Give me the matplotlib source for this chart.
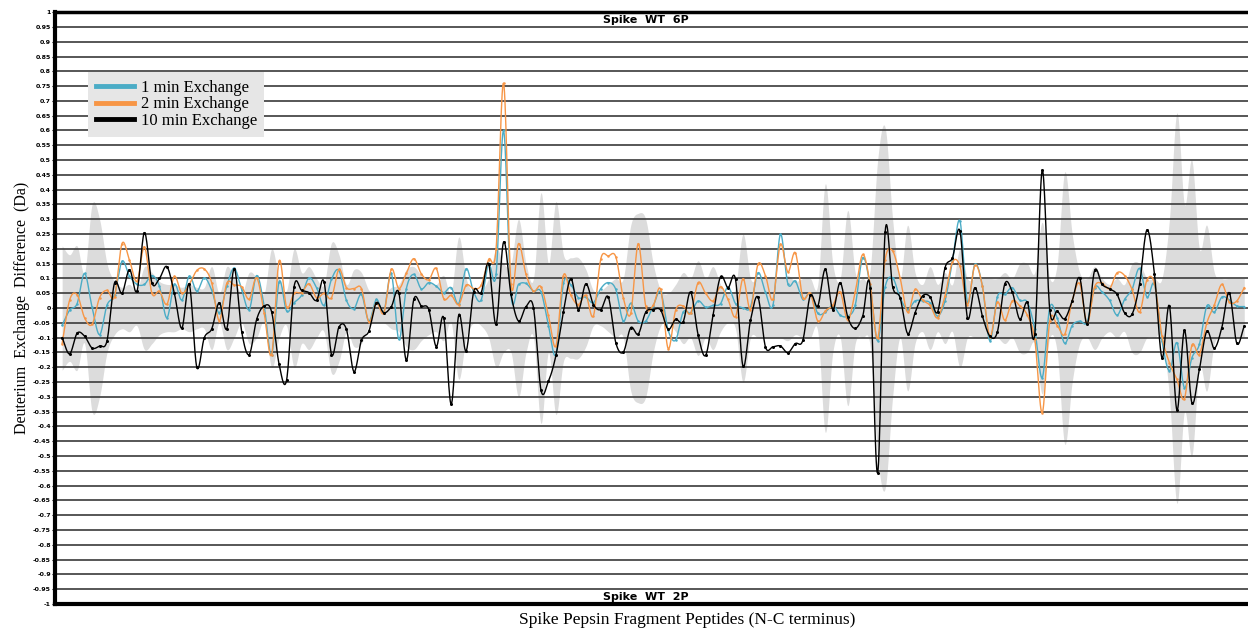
import numpy as np
import matplotlib
matplotlib.use('Agg')
import matplotlib.pyplot as plt
from matplotlib.lines import Line2D

# deuterium uptake difference (6P - 2P) per peptide, N- to C-terminus
min1 = [-0.058, -0.007, 0.015, 0.117, 0.003, -0.09, 0.01, 0.045, 0.158, 0.108, 0.08, 0.08, 0.11, 0.074, -0.033, 0.08, 0.027, 0.108, 0.057, 0.102, 0.06, -0.016, 0.074, 0.135, 0.062, -0.005,
        0.11, 0.007, -0.157, 0.089, -0.01, 0.018, 0.043, 0.102, 0.069, 0.009, 0.097, 0.127, 0.026, -0.002, 0.046, -0.044, 0.029, -0.012, 0.117, -0.106, 0.065, 0.114, 0.065, 0.086, 0.074, 0.052,
        0.069, 0.015, 0.133, 0.054, 0.027, 0.15, 0.114, 0.6, 0.043, 0.08, 0.083, 0.057, 0.055, -0.059, -0.157, 0.083, 0.078, 0.035, 0.037, 0.018, 0.066, 0.086, 0.063, -0.044, 0.016, -0.044,
        -0.044, 0.007, 0.054, -0.075, -0.108, -0.014, -0.016, 0.024, 0.003, 0.009, 0.015, 0.071, 0.015, 0.001, 0.003, 0.119, 0.054, 0.009, 0.249, 0.082, 0.091, 0.029, 0.05, -0.018, -0.014, 0.009,
        -0.024, -0.027, 0.009, 0.17, 0.074, -0.111, 0.072, 0.102, 0.035, -0.005, 0.024, 0.024, 0.018, -0.027, 0.024, 0.159, 0.294, 0.02, 0.148, 0.074, -0.111, 0.038, 0.046, 0.069, 0.026, 0.02, -0.072,
        -0.235, 0.001, -0.033, -0.119, -0.059, -0.044, -0.047, 0.069, 0.054, 0.026, -0.024, 0.029, 0.063, 0.134, 0.037, 0.08, -0.111, -0.212, -0.117, -0.269, -0.168, -0.123, 0.007, -0.014, 0.037, 0.027, 0.007, 0.005]

min2 = [-0.12, 0.027, 0.045, -0.033, -0.055, 0.035, 0.06, 0.038, 0.218, 0.162, 0.09, 0.207, 0.05, 0.057, 0.013, 0.107, 0.05, 0.08, 0.127, 0.132, 0.085, -0.043, 0.083, 0.078, 0.072, 0.03,
        0.102, -0.016, -0.157, 0.159, 0.003, 0.05, 0.052, 0.082, 0.035, 0.05, 0.035, 0.131, 0.069, 0.066, 0.066, -0.047, 0.018, -0.016, 0.131, 0.066, 0.117, 0.167, 0.116, 0.095, 0.134, 0.032,
        0.043, 0.012, 0.077, 0.066, 0.077, 0.164, 0.2, 0.76, 0.08, 0.218, 0.114, 0.057, 0.072, -0.025, -0.128, 0.11, 0.043, 0.012, 0.043, -0.027, 0.167, 0.176, 0.173, 0.035, -0.018, 0.218,
        0.007, 0.009, 0.063, -0.137, -0.007, 0.007, -0.018, 0.086, 0.05, 0.024, 0.072, 0.029, -0.029, 0.099, -0.005, 0.148, 0.11, 0.029, 0.215, 0.122, 0.187, 0.035, 0.05, -0.044, -0.01, 0.009,
        0.054, -0.041, 0.054, 0.181, 0.08, -0.102, 0.164, 0.193, 0.102, -0.014, 0.063, 0.027, 0.009, -0.033, 0.041, 0.155, 0.142, 0.012, 0.144, 0.074, -0.097, 0.02, -0.041, 0.024, 0.007, -0.024, -0.106,
        -0.354, -0.044, -0.059, -0.089, 0.024, 0.083, -0.052, 0.072, 0.083, 0.066, 0.119, 0.11, 0.063, -0.014, 0.095, 0.083, -0.095, -0.185, -0.241, -0.306, -0.126, -0.157, -0.05, 0.01, 0.08, 0.02, 0.024, 0.069]

min10 = [-0.10, -0.155, -0.085, -0.095, -0.135, -0.128, -0.11, 0.085, 0.05, 0.13, 0.057, 0.255, 0.085, 0.10, 0.14, 0.05, -0.068, 0.08, -0.20, -0.10, -0.07, 0.018, -0.07, 0.133, -0.08, -0.157,
         -0.038, 0.007, -0.013, -0.19, -0.243, 0.072, 0.06, 0.052, 0.026, 0.089, -0.157, -0.064, -0.072, -0.215, -0.109, -0.078, 0.018, -0.016, 0.005, 0.052, -0.176, 0.029, 0.007, -0.005, -0.13, -0.033,
         -0.325, -0.024, -0.145, 0.055, 0.052, 0.15, -0.055, 0.223, 0.046, -0.044, 0.005, 0.001, -0.277, -0.247, -0.16, -0.012, 0.099, -0.005, 0.082, 0.012, -0.005, 0.037, -0.117, -0.149, -0.066, -0.088,
         -0.014, -0.005, -0.007, -0.072, -0.038, -0.047, 0.054, -0.09, -0.16, -0.024, 0.106, 0.069, 0.097, -0.196, -0.042, 0.037, -0.131, -0.131, -0.128, -0.151, -0.12, -0.109, 0.043, 0.007, 0.131, -0.005,
         0.086, -0.03, -0.069, -0.027, 0.069, -0.557, 0.257, 0.072, 0.035, -0.086, -0.016, 0.041, 0.038, -0.014, 0.136, 0.17, 0.26, -0.033, 0.069, -0.027, -0.095, -0.081, 0.082, 0.054, -0.038, 0.02, -0.088,
         0.466, -0.005, -0.01, -0.036, 0.024, 0.102, -0.055, 0.127, 0.08, 0.065, 0.046, -0.016, -0.021, 0.08, 0.264, 0.114, -0.168, 0.007, -0.345, -0.075, -0.32, -0.207, -0.078, -0.136, -0.066, 0.052, -0.119, -0.061]

# significance threshold (+/-) per peptide
ci = [0.21, 0.18, 0.21, 0.12, 0.35, 0.30, 0.15, 0.09, 0.07, 0.08, 0.06, 0.14, 0.12, 0.09, 0.08, 0.08, 0.07, 0.08, 0.07, 0.07, 0.14, 0.05, 0.14, 0.10, 0.05, 0.12,
      0.10, 0.05, 0.20, 0.10, 0.06, 0.20, 0.12, 0.14, 0.10, 0.08, 0.22, 0.18, 0.08, 0.13, 0.12, 0.06, 0.05, 0.05, 0.07, 0.08, 0.13, 0.14, 0.11, 0.09, 0.08, 0.11,
      0.05, 0.24, 0.10, 0.05, 0.06, 0.10, 0.20, 0.15, 0.15, 0.30, 0.15, 0.10, 0.39, 0.15, 0.36, 0.18, 0.17, 0.17, 0.13, 0.06, 0.06, 0.08, 0.10, 0.10, 0.28, 0.32,
      0.30, 0.15, 0.06, 0.05, 0.08, 0.12, 0.10, 0.16, 0.10, 0.14, 0.08, 0.05, 0.07, 0.25, 0.10, 0.10, 0.10, 0.10, 0.10, 0.11, 0.09, 0.10, 0.10, 0.08, 0.42, 0.15,
      0.10, 0.33, 0.12, 0.10, 0.13, 0.50, 0.61, 0.30, 0.10, 0.28, 0.12, 0.08, 0.14, 0.08, 0.12, 0.08, 0.20, 0.10, 0.10, 0.10, 0.10, 0.10, 0.12, 0.10, 0.15, 0.15, 0.12,
      0.29, 0.10, 0.15, 0.46, 0.25, 0.12, 0.10, 0.14, 0.10, 0.08, 0.10, 0.08, 0.15, 0.15, 0.10, 0.10, 0.10, 0.30, 0.66, 0.35, 0.50, 0.20, 0.28, 0.12, 0.10, 0.10, 0.10, 0.10]


def smooth(x, y, n=16):
    # catmull-rom curve through the points, like excel's smoothed line
    x = np.asarray(x, float)
    y = np.asarray(y, float)
    def seg(p):
        p = np.concatenate([[2 * p[0] - p[1]], p, [2 * p[-1] - p[-2]]])
        t = np.linspace(0, 1, n, endpoint=False)[:, None]
        p0, p1, p2, p3 = p[:-3], p[1:-2], p[2:-1], p[3:]
        s = 0.5 * (2 * p1 + (p2 - p0) * t + (2 * p0 - 5 * p1 + 4 * p2 - p3) * t ** 2
                   + (3 * p1 - p0 - 3 * p2 + p3) * t ** 3)
        return np.append(s.T.ravel(), p[-2])
    return seg(x), seg(y)


x = np.arange(len(min10))

fig = plt.figure(figsize=(12.48, 6.31), dpi=100)
ax = fig.add_axes([0.0441, 0.0428, 0.9559, 0.938])

bx, by = smooth(x, ci)
by = np.abs(by)
ax.fill_between(bx, -by, by, color='#dcdcdc', lw=0, zorder=1)

yt = np.round(np.arange(-1, 1.0001, 0.05), 2)
for v in yt[1:-1]:
    ax.axhline(v, color='#3a3a3a', lw=1.2, zorder=1.5)

cols = {'1 min Exchange': '#4bacc6', '2 min Exchange': '#f79646', '10 min Exchange': '#000000'}
for (name, c), ys in zip(cols.items(), [min1, min2, min10]):
    sx, sy = smooth(x, ys)
    ax.plot(sx, sy, color=c, lw=1.0, zorder=3)
    ax.plot(x, ys, 'o', color=c, ms=2.2 if c == '#000000' else 1.8, mew=0, zorder=3)

ax.set_xlim(-0.95, 158.5)
ax.set_ylim(-1, 1)
ax.set_xticks([])
ax.set_yticks(yt)
ax.set_yticklabels([f'{v:g}' for v in yt], fontsize=4.5, fontweight='bold')
ax.tick_params(axis='y', length=2, width=0.8, pad=1)
for s in ['left', 'bottom']:
    ax.spines[s].set_linewidth(3)
ax.spines['top'].set_linewidth(2.5)
ax.spines['right'].set_visible(False)

handles = [Line2D([0], [0], color=c, lw=3.5) for c in cols.values()]
leg = ax.legend(handles, list(cols.keys()), loc='upper left', bbox_to_anchor=(0.0277, 0.8986),
                prop={'family': 'Liberation Serif', 'size': 12}, handlelength=2.3,
                handletextpad=0.4, labelspacing=0.05, borderpad=0.45, borderaxespad=0,
                fancybox=False, framealpha=1, facecolor='#e6e6e6', edgecolor='none')

fig.text(646 / 1248, 1 - 20 / 631, 'Spike  WT  6P', ha='center', va='center', fontsize=8, fontweight='bold')
fig.text(646 / 1248, 1 - 597 / 631, 'Spike  WT  2P', ha='center', va='center', fontsize=8, fontweight='bold')
fig.text(687 / 1248, 1 - 620 / 631, 'Spike Pepsin Fragment Peptides (N-C terminus)', ha='center', va='center',
         family='Liberation Serif', fontsize=12.5)
fig.text(22 / 1248, 1 - 308 / 631, 'Deuterium  Exchange  Difference  (Da)', ha='center', va='center',
         rotation=90, family='Liberation Serif', fontsize=11.5)

fig.savefig('out.png', dpi=100)
plt.close()
